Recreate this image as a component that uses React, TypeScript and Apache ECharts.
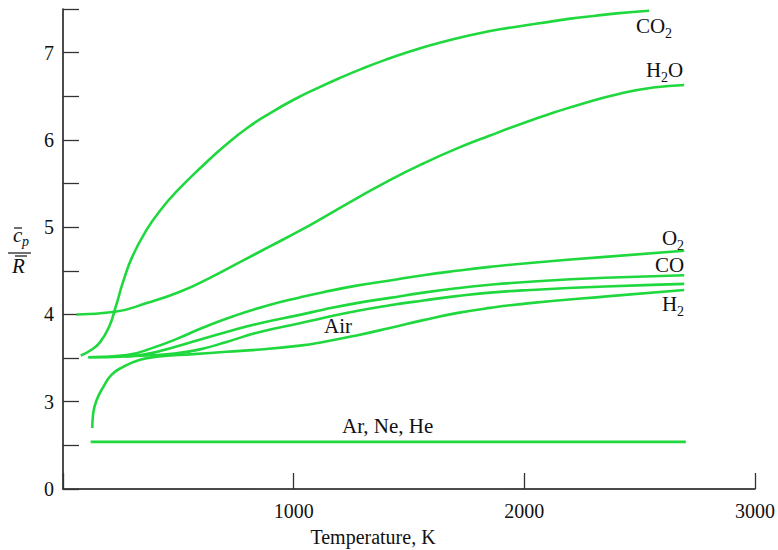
import React, { useEffect, useRef } from "react";
import * as echarts from "echarts";

// Temperature (K) and cp/R values
const CO2_T = [77, 120, 160, 200, 230, 260, 300, 360, 430, 500, 600, 700, 800, 900, 1000, 1100, 1200, 1300, 1400, 1500, 1600, 1700, 1800, 1900, 2000, 2100, 2200, 2300, 2400, 2541];
const CO2_V = [3.53, 3.59, 3.68, 3.86, 4.1, 4.37, 4.66, 4.96, 5.22, 5.43, 5.69, 5.93, 6.14, 6.31, 6.46, 6.59, 6.71, 6.82, 6.92, 7.01, 7.09, 7.16, 7.22, 7.27, 7.31, 7.35, 7.39, 7.42, 7.45, 7.48];

const H2O_T = [59, 225, 363, 507, 637, 767, 897, 1027, 1128, 1273, 1417, 1562, 1706, 1851, 2024, 2125, 2270, 2414, 2559, 2693];
const H2O_V = [4.0, 4.03, 4.13, 4.26, 4.42, 4.6, 4.78, 4.96, 5.11, 5.33, 5.54, 5.73, 5.9, 6.05, 6.22, 6.31, 6.43, 6.53, 6.6, 6.63];

const O2_T = [110, 276, 392, 493, 608, 738, 883, 1027, 1128, 1273, 1417, 1562, 1706, 1851, 2024, 2350, 2693];
const O2_V = [3.51, 3.535, 3.62, 3.72, 3.85, 3.98, 4.1, 4.195, 4.255, 4.33, 4.39, 4.45, 4.5, 4.545, 4.59, 4.66, 4.73];

const CO_T = [110, 276, 348, 420, 565, 709, 854, 1027, 1128, 1273, 1417, 1562, 1706, 1851, 2024, 2350, 2693];
const CO_V = [3.51, 3.52, 3.54, 3.58, 3.69, 3.8, 3.9, 3.995, 4.055, 4.13, 4.19, 4.25, 4.3, 4.34, 4.375, 4.42, 4.45];

const AIR_T = [269, 363, 493, 594, 709, 854, 1027, 1128, 1273, 1417, 1562, 1706, 1851, 2024, 2350, 2693];
const AIR_V = [3.52, 3.53, 3.555, 3.6, 3.685, 3.8, 3.9, 3.96, 4.04, 4.105, 4.16, 4.21, 4.25, 4.28, 4.32, 4.35];

const H2_T = [127, 131, 146, 175, 211, 261, 334, 406, 565, 709, 854, 1027, 1128, 1273, 1417, 1562, 1706, 1851, 2024, 2370, 2693];
const H2_V = [2.7, 2.87, 3.02, 3.17, 3.31, 3.4, 3.48, 3.515, 3.545, 3.572, 3.598, 3.643, 3.685, 3.76, 3.845, 3.935, 4.015, 4.075, 4.13, 4.21, 4.28];

const MONO_T = [120, 2700];
const MONO_V = [2.54, 2.54];

const X_TICKS = [1000, 2000, 3000];
const Y_LABELS = ["0", "3", "4", "5", "6", "7"];

const GREEN = "#1fd83e";
const FONT = "'Liberation Serif', 'Times New Roman', serif";

function zip(t: number[], v: number[]) {
  return t.map((x, i) => [x, v[i]]);
}

function lineSeries(name: string, t: number[], v: number[]) {
  return {
    name,
    type: "line",
    data: zip(t, v),
    smooth: 0.5,
    showSymbol: false,
    symbol: "none",
    lineStyle: { color: GREEN, width: 2.6 },
    silent: true,
  };
}

function txt(x: number, y: number, s: string, size = 21, italic = false) {
  return {
    type: "text",
    x,
    y,
    silent: true,
    style: {
      text: s,
      fontFamily: FONT,
      fontSize: size,
      fontStyle: italic ? "italic" : "normal",
      fill: "#111",
      align: "left",
      verticalAlign: "middle",
    },
  };
}

export default function App() {
  const ref = useRef<HTMLDivElement>(null);
  useEffect(() => {
    if (!ref.current) return;
    const chart = echarts.init(ref.current, null, { renderer: "svg" });
    const option = {
      animation: false,
      backgroundColor: "#fff",
      grid: { left: 63, right: 23, top: 9, bottom: 61, containLabel: false },
      xAxis: {
        type: "value",
        min: 0,
        max: 3000,
        interval: 1000,
        axisLine: { show: true, lineStyle: { color: "#111", width: 1.5 } },
        axisTick: { show: true, inside: true, length: 16, lineStyle: { color: "#333", width: 1.3 } },
        splitLine: { show: false },
        axisLabel: {
          margin: 12,
          fontFamily: FONT,
          fontSize: 20,
          color: "#111",
          formatter: (v: number) => (X_TICKS.indexOf(v) >= 0 ? String(v) : ""),
        },
      },
      yAxis: {
        type: "value",
        min: 2,
        max: 7.5,
        interval: 0.5,
        axisLine: { show: true, lineStyle: { color: "#111", width: 1.5 } },
        axisTick: { show: true, inside: true, length: 16, lineStyle: { color: "#333", width: 1.3 } },
        splitLine: { show: false },
        axisLabel: {
          margin: 9,
          fontFamily: FONT,
          fontSize: 20,
          color: "#111",
          formatter: (v: number) => {
            if (Math.abs(v - Math.round(v)) > 1e-6) return "";
            const i = Math.round(v) - 2;
            return Y_LABELS[i] ?? "";
          },
        },
      },
      series: [
        lineSeries("CO2", CO2_T, CO2_V),
        lineSeries("H2O", H2O_T, H2O_V),
        lineSeries("O2", O2_T, O2_V),
        lineSeries("CO", CO_T, CO_V),
        lineSeries("Air", AIR_T, AIR_V),
        lineSeries("H2", H2_T, H2_V),
        lineSeries("Ar, Ne, He", MONO_T, MONO_V),
      ],
      graphic: [
        // series labels
        txt(636, 26, "CO"),
        txt(665, 33, "2", 14),
        txt(646, 70, "H"),
        txt(661, 77, "2", 14),
        txt(668, 70, "O"),
        txt(662, 238, "O"),
        txt(677, 245, "2", 14),
        txt(655, 265, "CO"),
        txt(662, 304, "H"),
        txt(677, 311, "2", 14),
        txt(324, 326, "Air"),
        txt(342, 426, "Ar, Ne, He"),
        // x axis name
        {
          type: "text",
          x: 373,
          y: 537,
          silent: true,
          style: {
            text: "Temperature, K",
            fontFamily: FONT,
            fontSize: 20,
            fill: "#111",
            align: "center",
            verticalAlign: "middle",
          },
        },
        // y axis title: c̄p / R̄
        txt(13, 235, "c", 21, true),
        txt(22, 241, "p", 14, true),
        { type: "line", silent: true, shape: { x1: 14, y1: 228, x2: 22, y2: 228 }, style: { stroke: "#111", lineWidth: 1.2 } },
        { type: "line", silent: true, shape: { x1: 8, y1: 253, x2: 31, y2: 253 }, style: { stroke: "#111", lineWidth: 1.2 } },
        { type: "line", silent: true, shape: { x1: 15, y1: 256, x2: 27, y2: 256 }, style: { stroke: "#111", lineWidth: 1.2 } },
        txt(12, 266, "R", 21, true),
      ],
    };
    chart.setOption(option as any);
    return () => chart.dispose();
  }, []);
  return (
    <div
      ref={ref}
      style={{ position: "fixed", left: 0, top: 0, width: 778, height: 550, background: "#fff" }}
    />
  );
}
